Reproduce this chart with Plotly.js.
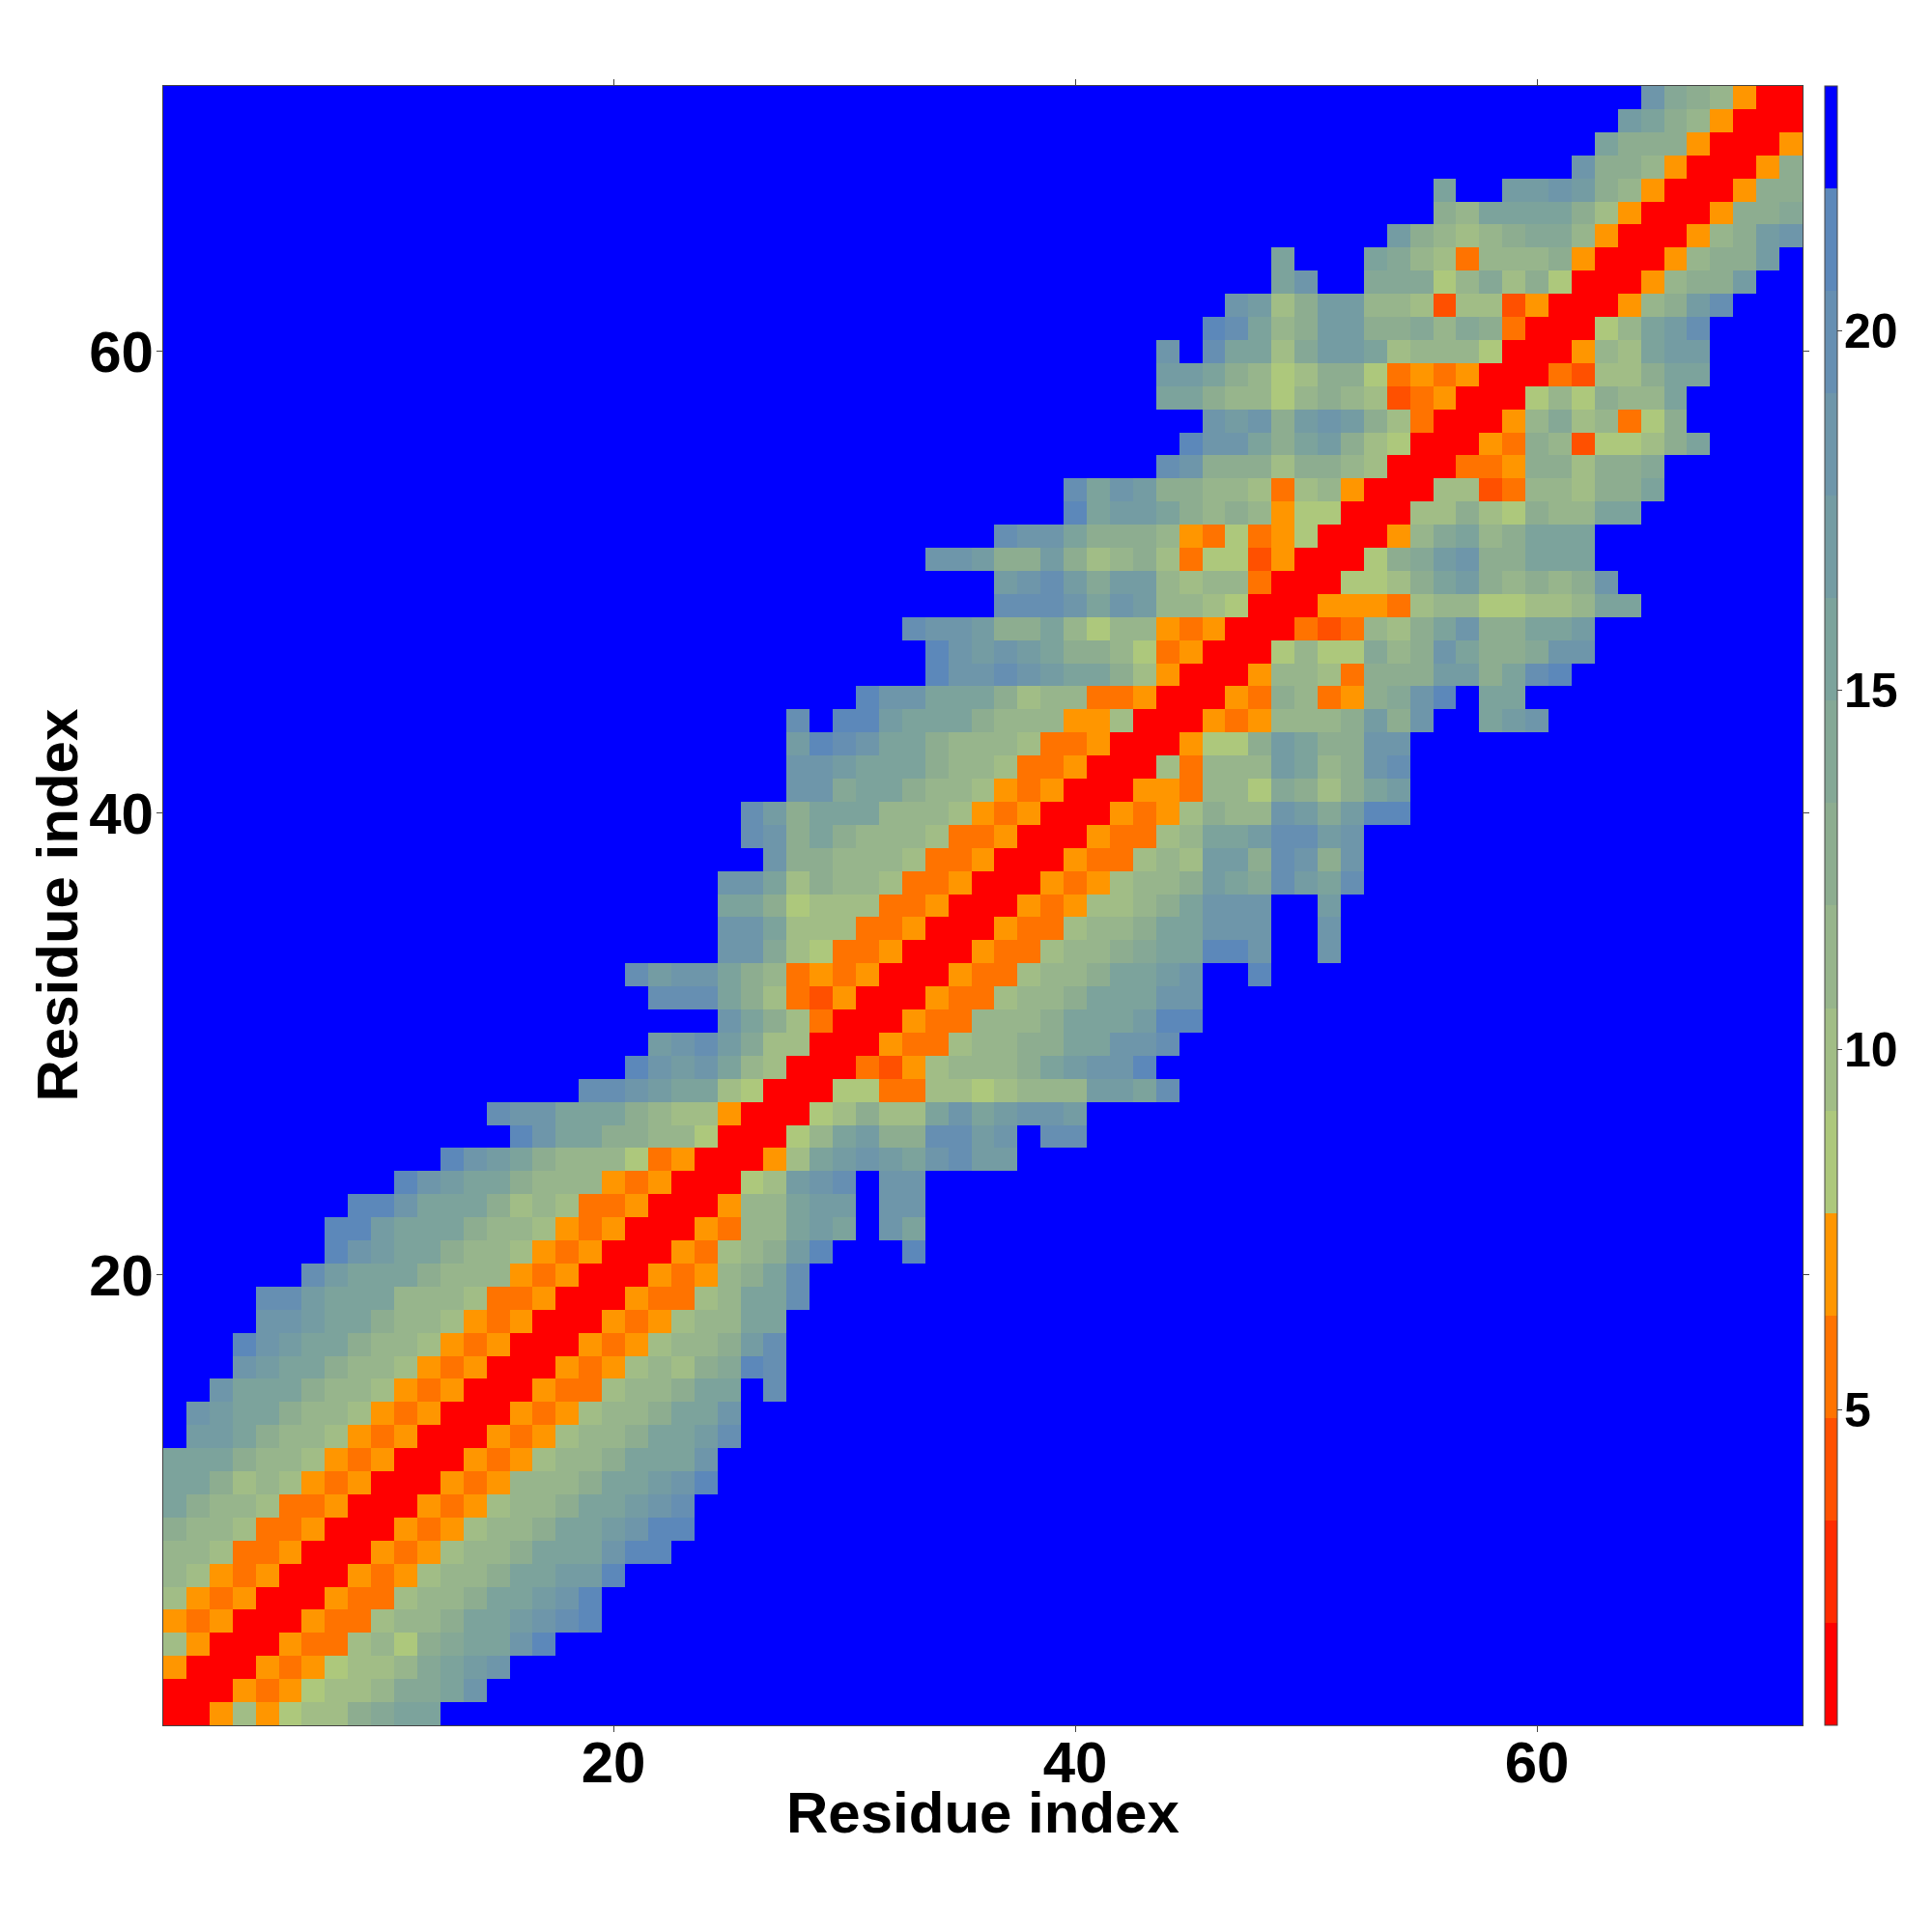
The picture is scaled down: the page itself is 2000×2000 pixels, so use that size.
<!DOCTYPE html>
<html>
<head>
<meta charset="utf-8">
<script src="https://cdn.plot.ly/plotly-3.0.1.min.js"></script>
<style>html,body{margin:0;padding:0;background:#fff}</style>
</head>
<body>
<div id="chart" style="width:2000px;height:2000px"></div>
<script>
// Band midpoints of the 16 colour bar steps, lowest first (hex digit 0..F in the rows below)
const bandValues = [1.32,2.75,4.17,5.6,7.02,8.44,9.87,11.29,12.72,14.14,15.57,16.99,18.41,19.84,21.26,22.69];
const bandColors = ['#ff0000','#ff2b00','#ff5000','#ff7300','#ff9600','#adc87c','#a1bd86','#97b58c','#8dad90','#85a896','#7ca39c','#749ca3','#6e96aa','#668fb2','#5c88ba','#0000ff'];
const zMin = 0.61, zMax = 23.4;
const residues = Array.from({length:71},(_, i)=>i+1);
// First column that is not plain blue, row 1 (bottom) to row 71 (top)
const rowStart = [1,1,1,1,1,1,1,1,1,1,1,1,2,2,3,4,4,5,5,7,8,8,9,11,13,16,15,19,21,22,25,22,21,25,25,25,25,27,26,26,28,28,28,28,31,34,34,33,37,37,34,37,40,40,44,45,46,44,44,44,46,47,49,49,54,56,56,62,63,64,65];
// Read colour step of each cell from that column on; everything else is blue (F)
const rowLevels = [
"0046456689AA","000434566799AC","400043456679ABC","6400043367589AACE","4340004336778AABCDE",
"64340004336778AABCE","764340004346778AABBE","7763340004346778AAACEE","87763340004346778AABCEE","A87763340004346778AABCD",
"AA86764340004347778AABCE","AAA87764340004346778AAAC","BBA87764340004346778AABD","CBAA87764340004346778AAC","CAAA87764340004336778AAFD",
"CBAA877643400043467689ED","ECBAA87764340004346778BD","CCBAA8776434000434677AA","DDBAAA777633400043367AAD","DBAAA877743400043478AD",
"ECBAA877643400043678BEFFFE","EEBAAA87764340004377ABAFCA","EECAAA8676334000477ABBFCC","ECBAA877743400056BCDFCC","ECBA877753400046ABCBACDBB",
"ECAA8877500057AB88DDBCFDD","DCCAAA8766400056866ACABCCB","DDCBAA6500055336656777BBAD","ECBCA7600032467778ABCCE","BCDB96600043367788AACCD",
"CA8630004337778AAABEE","DDDA863240004336778AAACC","DBCCA8734340004336778AABCFFE","CC96533400043367789AAEECFFC","CCA6663340004336778AACCCFFC",
"AA856663340004346678ACCCFFB","CCA687763340004346778BA9DBAD","C887776334000433676BB8DC8C","DC8A8777633400043367AABDDBC","DB8AAA77764340004346877CB9BEE",
"CC9AA87764340004437759868AB","CCBAAA877633400063777BA78CD","BEDCAA877763340004558BA88CC","DFEEBAAA87774460004347778B8CFFABC","ECCAAA867733400043873489CEFAA",
"ECCDCBAA86400047763888BB8ADE","ECBCBA8875340005755978CA889CC","DCCB88A7577434000323768AC88AAB","DDDCACB7765000444367755667AA","BCDB9BB767730005568AB87878C",
"CCB88B8678635524000589BC88AAA","DCCA8887435345000479A78AAA","EABBA878745500066865877AA","DACB887763674000662377688A","DC88868876000334886889",
"ECCA8AB865000438725568A","CBC8BCB86300047967358","AA87757876234000575877A","BBA8756885343400032668AA","CFDAA69BBA67775000476ABB",
"EDA78BB889798300057ABD","CB68BB77626624000478BD","ACFF9995796850004788B","AFFFA9763777840004788B","B876789974000478BC",
"87AAAA8640004889","AFFBBCB874000488","C887400048","A88840004","BA874000","C987400"
];
const axisTicks = [20,40,60];
const barTicks = [5,10,15,20];
const axisLabel = 'Residue index';

const z = rowLevels.map((s,r)=>residues.map(col=>{
  const i = col-rowStart[r];
  const ch = (i>=0 && i<s.length) ? s[i] : 'F';
  return bandValues[parseInt(ch,16)];
}));
const colorscale = [];
bandColors.forEach((c,i)=>{
  colorscale.push([i/bandColors.length,c]);
  colorscale.push([(i+1)/bandColors.length,c]);
});

const fontFamily = '"Liberation Sans", Arial, sans-serif';
function axis(standoff){
  return {
    range:[0.5,71.5], tickmode:'array', tickvals:axisTicks, ticktext:axisTicks.map(String),
    ticks:'outside', ticklen:6, tickwidth:1, tickcolor:'#444', ticklabelstandoff:standoff,
    showline:true, linecolor:'#444', linewidth:1, mirror:'ticks',
    showgrid:false, zeroline:false,
    tickfont:{family:fontFamily,size:60,color:'#000',weight:700}
  };
}
const titleFont = {family:fontFamily,size:60,color:'#000',weight:700};

Plotly.newPlot('chart',[{
  type:'heatmap', x:residues, y:residues, z:z, zmin:zMin, zmax:zMax, zsmooth:false,
  colorscale:colorscale, hoverinfo:'skip',
  colorbar:{
    x:1.0136, xref:'paper', xanchor:'left', xpad:0, y:0, yanchor:'bottom', yref:'paper', ypad:0,
    len:1, lenmode:'fraction', thickness:13, thicknessmode:'pixels',
    outlinewidth:1, outlinecolor:'#444', borderwidth:0,
    tickmode:'array', tickvals:barTicks, ticktext:barTicks.map(String),
    ticks:'outside', ticklen:5, tickwidth:1, tickcolor:'#444',
    tickfont:{family:fontFamily,size:50,color:'#000',weight:700}
  }
}],{
  width:2000, height:2000, paper_bgcolor:'#fff', plot_bgcolor:'#00f',
  margin:{l:169,r:134,t:89,b:214,pad:0,autoexpand:false},
  xaxis:axis(-20), yaxis:axis(-9), showlegend:false,
  annotations:[
    {text:axisLabel,xref:'paper',yref:'paper',x:0.5,y:0,xanchor:'center',yanchor:'middle',yshift:-90,showarrow:false,font:titleFont},
    {text:axisLabel,xref:'paper',yref:'paper',x:0,y:0.5,xanchor:'center',yanchor:'middle',xshift:-110,textangle:-90,showarrow:false,font:titleFont}
  ]
},{displayModeBar:false,staticPlot:true}).then(gd=>{
  // The colour bar has no label standoff setting: pull its tick labels in by hand
  gd.querySelectorAll('.colorbar .cbaxis text').forEach(t=>{
    t.setAttribute('x', parseFloat(t.getAttribute('x')||0)-8);
  });
});
</script>
</body>
</html>
